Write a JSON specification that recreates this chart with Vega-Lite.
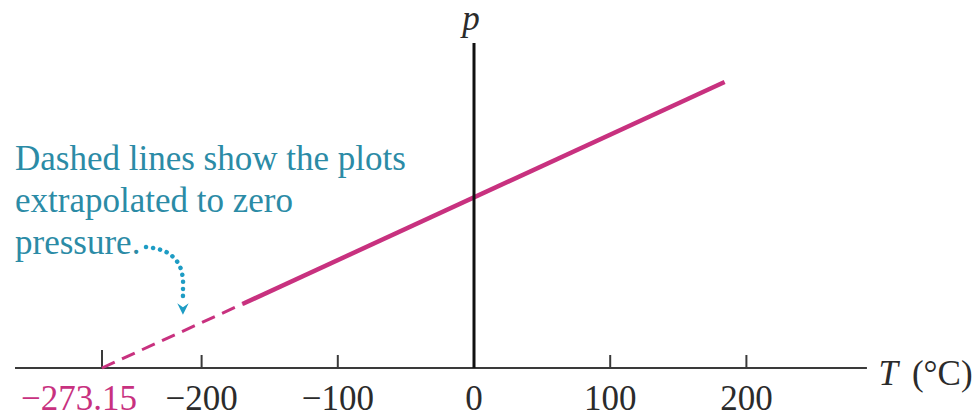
{
  "$schema": "https://vega.github.io/schema/vega-lite/v6.json",
  "width": 977,
  "height": 417,
  "padding": 0,
  "autosize": "none",
  "background": "white",
  "config": {"view": {"stroke": null}, "font": "Liberation Serif"},
  "data": {"values": [{}]},
  "datasets": {
    "pressure": [
      {"T": -273.15, "p": 0, "seg": "extrapolated"},
      {"T": -170, "p": 64, "seg": "extrapolated"},
      {"T": -170, "p": 64, "seg": "measured"},
      {"T": 184, "p": 286, "seg": "measured"}
    ],
    "ticks": [
      {"T": -273.15, "label": "−273.15"},
      {"T": -200, "label": "−200"},
      {"T": -100, "label": "−100"},
      {"T": 0, "label": "0"},
      {"T": 100, "label": "100"},
      {"T": 200, "label": "200"}
    ],
    "pointer": [
      {"i": 0, "T": -240.8, "p": 121},
      {"i": 1, "T": -232.0, "p": 119},
      {"i": 2, "T": -224.7, "p": 115},
      {"i": 3, "T": -218.8, "p": 108},
      {"i": 4, "T": -215.2, "p": 99},
      {"i": 5, "T": -213.7, "p": 88},
      {"i": 6, "T": -213.7, "p": 76},
      {"i": 7, "T": -213.7, "p": 66}
    ],
    "pointerTip": [{"T": -213.7, "p": 59}]
  },
  "layer": [
    {
      "mark": {"type": "rule", "color": "#3a3a3a", "strokeWidth": 2},
      "encoding": {
        "x": {"datum": -337, "type": "quantitative", "scale": {"domain": [-348.02, 369.31], "nice": false, "zero": false}, "axis": null},
        "x2": {"datum": 288.5},
        "y": {"datum": 0, "type": "quantitative", "scale": {"domain": [-49, 368], "nice": false, "zero": false}, "axis": null}
      }
    },
    {
      "data": {"name": "ticks"},
      "transform": [{"filter": "datum.T > -250"}],
      "mark": {"type": "rule", "color": "#3a3a3a", "strokeWidth": 2},
      "encoding": {
        "x": {"field": "T", "type": "quantitative", "scale": {"domain": [-348.02, 369.31], "nice": false, "zero": false}, "axis": null},
        "y": {"datum": 0, "type": "quantitative", "scale": {"domain": [-49, 368], "nice": false, "zero": false}, "axis": null},
        "y2": {"datum": 13}
      }
    },
    {
      "data": {"name": "ticks"},
      "transform": [{"filter": "datum.T < -250"}],
      "mark": {"type": "rule", "color": "#3a3a3a", "strokeWidth": 2},
      "encoding": {
        "x": {"field": "T", "type": "quantitative", "scale": {"domain": [-348.02, 369.31], "nice": false, "zero": false}, "axis": null},
        "y": {"datum": 0, "type": "quantitative", "scale": {"domain": [-49, 368], "nice": false, "zero": false}, "axis": null},
        "y2": {"datum": 18}
      }
    },
    {
      "data": {"name": "ticks"},
      "transform": [{"filter": "datum.T > -250"}],
      "mark": {"type": "text", "fontSize": 35, "color": "#2b2b2b", "align": "center", "baseline": "alphabetic"},
      "encoding": {
        "x": {"field": "T", "type": "quantitative", "scale": {"domain": [-348.02, 369.31], "nice": false, "zero": false}, "axis": null},
        "y": {"datum": -42, "type": "quantitative", "scale": {"domain": [-49, 368], "nice": false, "zero": false}, "axis": null},
        "text": {"field": "label", "type": "nominal"}
      }
    },
    {
      "data": {"name": "ticks"},
      "transform": [{"filter": "datum.T < -250"}],
      "mark": {"type": "text", "fontSize": 35, "color": "#c8317f", "align": "center", "baseline": "alphabetic", "dx": -23},
      "encoding": {
        "x": {"field": "T", "type": "quantitative", "scale": {"domain": [-348.02, 369.31], "nice": false, "zero": false}, "axis": null},
        "y": {"datum": -42, "type": "quantitative", "scale": {"domain": [-49, 368], "nice": false, "zero": false}, "axis": null},
        "text": {"field": "label", "type": "nominal"}
      }
    },
    {
      "mark": {"type": "text", "text": "T", "fontSize": 35, "fontStyle": "italic", "color": "#2b2b2b", "align": "left", "baseline": "alphabetic"},
      "encoding": {
        "x": {"datum": 297, "type": "quantitative", "scale": {"domain": [-348.02, 369.31], "nice": false, "zero": false}, "axis": null},
        "y": {"datum": -17, "type": "quantitative", "scale": {"domain": [-49, 368], "nice": false, "zero": false}, "axis": null}
      }
    },
    {
      "mark": {"type": "text", "text": "(°C)", "fontSize": 35, "color": "#2b2b2b", "align": "left", "baseline": "alphabetic"},
      "encoding": {
        "x": {"datum": 321.5, "type": "quantitative", "scale": {"domain": [-348.02, 369.31], "nice": false, "zero": false}, "axis": null},
        "y": {"datum": -17, "type": "quantitative", "scale": {"domain": [-49, 368], "nice": false, "zero": false}, "axis": null}
      }
    },
    {
      "data": {"name": "pressure"},
      "transform": [{"filter": "datum.seg === 'extrapolated'"}],
      "mark": {"type": "line", "color": "#c8317f", "strokeWidth": 3, "strokeDash": [14, 8]},
      "encoding": {
        "x": {"field": "T", "type": "quantitative", "scale": {"domain": [-348.02, 369.31], "nice": false, "zero": false}, "axis": null},
        "y": {"field": "p", "type": "quantitative", "scale": {"domain": [-49, 368], "nice": false, "zero": false}, "axis": null}
      }
    },
    {
      "data": {"name": "pressure"},
      "transform": [{"filter": "datum.seg === 'measured'"}],
      "mark": {"type": "line", "color": "#c8317f", "strokeWidth": 4.5, "strokeCap": "butt"},
      "encoding": {
        "x": {"field": "T", "type": "quantitative", "scale": {"domain": [-348.02, 369.31], "nice": false, "zero": false}, "axis": null},
        "y": {"field": "p", "type": "quantitative", "scale": {"domain": [-49, 368], "nice": false, "zero": false}, "axis": null}
      }
    },
    {
      "mark": {"type": "rule", "color": "#111111", "strokeWidth": 3},
      "encoding": {
        "x": {"datum": 0, "type": "quantitative", "scale": {"domain": [-348.02, 369.31], "nice": false, "zero": false}, "axis": null},
        "y": {"datum": 0, "type": "quantitative", "scale": {"domain": [-49, 368], "nice": false, "zero": false}, "axis": null},
        "y2": {"datum": 325}
      }
    },
    {
      "mark": {"type": "text", "text": "p", "fontSize": 35, "fontStyle": "italic", "color": "#2b2b2b", "align": "center", "baseline": "alphabetic", "dx": -3},
      "encoding": {
        "x": {"datum": 0, "type": "quantitative", "scale": {"domain": [-348.02, 369.31], "nice": false, "zero": false}, "axis": null},
        "y": {"datum": 338, "type": "quantitative", "scale": {"domain": [-49, 368], "nice": false, "zero": false}, "axis": null}
      }
    },
    {
      "mark": {
        "type": "text",
        "text": ["Dashed lines show the plots", "extrapolated to zero", "pressure."],
        "lineHeight": 42,
        "fontSize": 35,
        "color": "#2b8ba6",
        "align": "left",
        "baseline": "alphabetic"
      },
      "encoding": {
        "x": {"datum": -337, "type": "quantitative", "scale": {"domain": [-348.02, 369.31], "nice": false, "zero": false}, "axis": null},
        "y": {"datum": 198, "type": "quantitative", "scale": {"domain": [-49, 368], "nice": false, "zero": false}, "axis": null}
      }
    },
    {
      "data": {"name": "pointer"},
      "mark": {"type": "line", "color": "#1e9cc4", "strokeWidth": 4.5, "strokeDash": [0.1, 7], "strokeCap": "round", "interpolate": "catmull-rom"},
      "encoding": {
        "x": {"field": "T", "type": "quantitative", "scale": {"domain": [-348.02, 369.31], "nice": false, "zero": false}, "axis": null},
        "y": {"field": "p", "type": "quantitative", "scale": {"domain": [-49, 368], "nice": false, "zero": false}, "axis": null},
        "order": {"field": "i", "type": "quantitative"}
      }
    },
    {
      "data": {"name": "pointerTip"},
      "mark": {"type": "point", "shape": "M -1 -1 L 0 -0.3 L 1 -1 L 0 1 Z", "filled": true, "color": "#1e9cc4", "opacity": 1, "size": 130},
      "encoding": {
        "x": {"field": "T", "type": "quantitative", "scale": {"domain": [-348.02, 369.31], "nice": false, "zero": false}, "axis": null},
        "y": {"field": "p", "type": "quantitative", "scale": {"domain": [-49, 368], "nice": false, "zero": false}, "axis": null}
      }
    }
  ]
}
